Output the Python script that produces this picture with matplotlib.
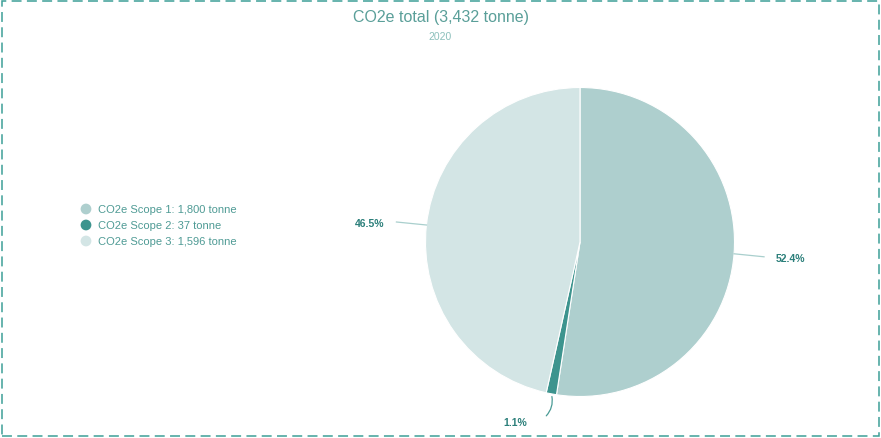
import numpy as np
import matplotlib
matplotlib.use("Agg")
from matplotlib import pyplot as plt
from matplotlib.patches import Rectangle, FancyArrowPatch

plt.rcParams["font.family"] = ["Liberation Sans", "DejaVu Sans"]

# data
categories = ["CO2e Scope 1", "CO2e Scope 2", "CO2e Scope 3"]
values = [1800, 37, 1596]
colors = ["#aecfce", "#3d948e", "#d3e5e5"]
title = "CO2e total (3,432 tonne)"
subtitle = "2020"

W, H = 881, 439
fig = plt.figure(figsize=(W / 100, H / 100), dpi=100)
ax = fig.add_axes([0, 0, 1, 1])

cx, cy, r = 580, H - 243, 154.5
wedges, _ = ax.pie(values, colors=colors, startangle=90, counterclock=False,
                   radius=r, center=(cx, cy), frame=True,
                   wedgeprops=dict(edgecolor="white", linewidth=0.8))
ax.set_xlim(0, W)
ax.set_ylim(0, H)
ax.set_aspect("equal")
ax.axis("off")

total = sum(values)
lab_col = "#2b7f7a"
line_col = "#a9cfcd"
for w, v in zip(wedges, values):
    pct = f"{v / total * 100:.1f}%"
    ang = np.deg2rad((w.theta1 + w.theta2) / 2)
    ex, ey = cx + r * np.cos(ang), cy + r * np.sin(ang)
    if v / total < 0.05:
        # small slice: curved leader line going down
        tx, ty = ex - 7, ey - 24
        ax.add_patch(FancyArrowPatch((ex, ey), (tx, ty), arrowstyle="-",
                                     connectionstyle="arc3,rad=-0.3",
                                     color="#4a9b95", lw=0.9))
        ax.text(tx - 17, ty - 4, pct, ha="right", va="center",
                fontsize=7.5, fontweight="bold", color=lab_col)
    else:
        dx = 1 if np.cos(ang) > 0 else -1
        lx, ly = ex + dx * 30, ey - dx * 3
        ax.plot([ex, lx], [ey, ly], color=line_col, lw=0.9)
        ax.text(lx + dx * 12, ly - 1, pct, ha="left" if dx > 0 else "right",
                va="center", fontsize=7.5, fontweight="bold", color=lab_col)

# legend
for i, (c, v, col) in enumerate(zip(categories, values, colors)):
    y = H - (210 + 16 * i)
    ax.scatter([86], [y], s=60, color=col, edgecolors="none")
    ax.text(98, y, f"{c}: {v:,} tonne", ha="left", va="center",
            fontsize=8, color="#4f9b95")

# titles
ax.text(W / 2, H - 17, title, ha="center", va="center", fontsize=11.5,
        color="#5a9f99")
ax.text(W / 2, H - 37, subtitle, ha="center", va="center", fontsize=7.5,
        color="#8cc0bc")

# dashed border
ax.add_patch(Rectangle((2, 2), W - 4, H - 3.5, fill=False, edgecolor="#3d9f97",
                       lw=1.1, linestyle=(0, (6.5, 3.5))))

fig.savefig("out.png", dpi=100)
